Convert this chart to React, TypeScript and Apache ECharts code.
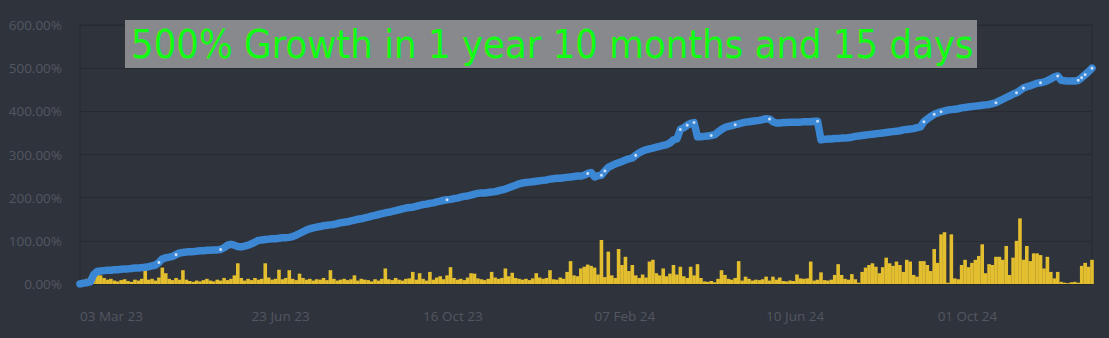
import React, { useEffect, useRef } from "react";
import * as echarts from "echarts";

const tickLabels = ["03 Mar 23", "23 Jun 23", "16 Oct 23", "07 Feb 24", "10 Jun 24", "01 Oct 24"];
const yTicks = [0, 100, 200, 300, 400, 500, 600];

const growthValues = [
  0, 2, 3, 5, 22, 29, 30, 31, 32, 32,
  33, 33, 34, 35, 35, 36, 37, 37, 38, 39,
  40, 42, 44, 50, 58, 61, 62, 64, 68, 72,
  73, 74, 75, 75, 76, 77, 77, 78, 78, 79,
  79, 80, 84, 90, 92, 90, 87, 86, 88, 90,
  93, 97, 101, 102, 103, 104, 105, 105, 106, 107,
  107, 108, 110, 113, 117, 121, 125, 128, 130, 132,
  133, 135, 136, 137, 138, 140, 142, 143, 144, 146,
  148, 150, 151, 153, 155, 157, 159, 161, 163, 165,
  166, 168, 170, 172, 174, 176, 177, 178, 180, 182,
  184, 185, 187, 188, 190, 192, 194, 195, 196, 198,
  199, 201, 203, 204, 206, 208, 210, 211, 211, 212,
  213, 214, 216, 218, 220, 223, 226, 229, 232, 234,
  235, 236, 237, 238, 239, 240, 241, 243, 244, 245,
  245, 246, 247, 248, 249, 250, 250, 252, 256, 258,
  248, 251, 252, 262, 270, 274, 278, 281, 284, 287,
  290, 292, 298, 304, 308, 311, 313, 315, 317, 319,
  321, 323, 327, 334, 336, 358, 362, 368, 372, 374,
  341, 341, 342, 343, 344, 346, 352, 358, 363, 365,
  367, 369, 371, 373, 375, 376, 377, 378, 379, 381,
  383, 382, 376, 373, 373, 374, 374, 375, 375, 375,
  375, 376, 376, 376, 377, 377, 334, 335, 336, 336,
  337, 337, 338, 338, 339, 340, 342, 343, 344, 345,
  346, 347, 348, 349, 350, 351, 352, 353, 354, 355,
  357, 358, 359, 360, 362, 364, 376, 382, 388, 393,
  396, 399, 401, 403, 404, 405, 406, 408, 409, 410,
  411, 412, 413, 414, 415, 416, 418, 420, 424, 428,
  432, 436, 440, 443, 448, 454, 457, 459, 462, 465,
  466, 468, 471, 475, 480, 482, 472, 471, 470, 470,
  470, 472, 478, 485, 492, 500,
];

const dailyValues = [
  3, 8, 12, 15, 22, 30, 20, 14, 10, 12,
  8, 6, 9, 11, 7, 5, 10, 8, 12, 38,
  10, 12, 8, 15, 38, 25, 12, 9, 14, 10,
  32, 10, 7, 5, 8, 6, 9, 12, 8, 6,
  10, 8, 14, 9, 12, 20, 48, 14, 8, 12,
  9, 14, 10, 12, 48, 15, 10, 12, 33, 11,
  14, 32, 12, 9, 24, 14, 10, 12, 8, 11,
  10, 14, 9, 32, 12, 8, 10, 12, 9, 11,
  20, 8, 12, 10, 9, 6, 11, 8, 12, 36,
  11, 9, 14, 10, 8, 12, 13, 28, 10, 25,
  12, 8, 28, 10, 15, 18, 11, 20, 39, 14,
  10, 12, 9, 15, 25, 24, 13, 11, 9, 12,
  28, 15, 12, 14, 36, 18, 26, 14, 12, 10,
  12, 9, 13, 25, 15, 12, 14, 32, 11, 10,
  15, 12, 28, 53, 20, 18, 36, 40, 45, 42,
  38, 22, 102, 16, 75, 20, 14, 81, 44, 63,
  30, 44, 20, 14, 22, 15, 52, 56, 25, 20,
  36, 18, 24, 44, 22, 40, 18, 14, 40, 20,
  46, 14, 6, 5, 7, 4, 12, 32, 21, 12,
  10, 14, 53, 8, 17, 12, 8, 10, 9, 11,
  17, 8, 17, 10, 15, 7, 6, 8, 7, 22,
  13, 12, 13, 52, 8, 10, 27, 9, 8, 10,
  21, 46, 21, 12, 10, 23, 11, 3, 28, 38,
  44, 48, 40, 25, 39, 61, 48, 42, 52, 44,
  28, 56, 52, 21, 17, 53, 53, 44, 30, 81,
  49, 115, 120, 3, 115, 13, 11, 44, 56, 39,
  49, 56, 65, 92, 25, 46, 44, 63, 63, 56,
  88, 21, 61, 100, 152, 56, 88, 53, 71, 71,
  67, 36, 63, 28, 13, 28, 5, 3, 2, 4,
  5, 3, 42, 49, 40, 56,
];

const markerIdx = [23, 28, 41, 107, 148, 152, 153, 162, 175, 177, 179, 184, 191, 201, 215, 246, 249, 251, 267, 273, 275, 280, 285, 291, 292, 293, 295];

const titleText = "500% Growth in 1 year 10 months and 15 days";
const LABEL_STEP = 50;

export default function App() {
  const ref = useRef<HTMLDivElement>(null);
  useEffect(() => {
    if (!ref.current) return;
    const chart = echarts.init(ref.current, null, { renderer: "svg" });
    const categories = growthValues.map((_, i) => String(i));
    const markerData = growthValues.map((v, i) => (markerIdx.includes(i) ? v : "-"));
    const axisColor = "#535761";
    const gridColor = "#272a31";
    chart.setOption({
      animation: false,
      backgroundColor: "#2f333c",
      grid: { left: 80, right: 17, top: 25, bottom: 54, show: true, borderColor: gridColor, borderWidth: 1 },
      xAxis: {
        type: "category",
        data: categories,
        boundaryGap: false,
        axisLine: { show: false },
        axisTick: { show: false },
        splitLine: { show: false },
        axisLabel: {
          interval: (i: number) => i % LABEL_STEP === 0,
          formatter: (_v: string, i: number) => tickLabels[i / LABEL_STEP] ?? "",
          align: "left",
          color: axisColor,
          fontFamily: "Open Sans",
          fontSize: 13.5,
          margin: 25,
        },
      },
      yAxis: {
        type: "value",
        min: yTicks[0],
        max: yTicks[yTicks.length - 1],
        interval: 100,
        axisLine: { show: false },
        axisTick: { show: false },
        splitLine: { lineStyle: { color: gridColor, width: 1 } },
        axisLabel: {
          formatter: (v: number) => v.toFixed(2) + "%",
          color: axisColor,
          fontFamily: "Open Sans",
          fontSize: 13.5,
          margin: 18,
        },
      },
      series: [
        {
          type: "bar",
          data: dailyValues,
          barWidth: 3.6,
          itemStyle: { color: "#e3be2e" },
        },
        {
          type: "line",
          data: growthValues,
          showSymbol: false,
          lineStyle: { color: "#3b87d4", width: 7.5, cap: "round", join: "round" },
          z: 3,
        },
        {
          type: "scatter",
          data: markerData,
          symbol: "circle",
          symbolSize: 3,
          itemStyle: { color: "#eef4ff" },
          z: 4,
        },
      ],
      graphic: [
        {
          type: "rect",
          shape: { x: 125, y: 20, width: 852, height: 48 },
          style: { fill: "#88898d" },
          z: 10,
        },
        {
          type: "text",
          x: 131,
          y: 44,
          style: {
            text: titleText,
            fill: "#11ff11",
            font: '39.6px "DejaVu Sans Condensed", "DejaVu Sans"',
            verticalAlign: "middle",
            align: "left",
          },
          z: 11,
        },
      ],
    });
    return () => chart.dispose();
  }, []);
  return (
    <div
      ref={ref}
      style={{ position: "fixed", left: 0, top: 0, width: 1109, height: 338, background: "#2f333c" }}
    />
  );
}
